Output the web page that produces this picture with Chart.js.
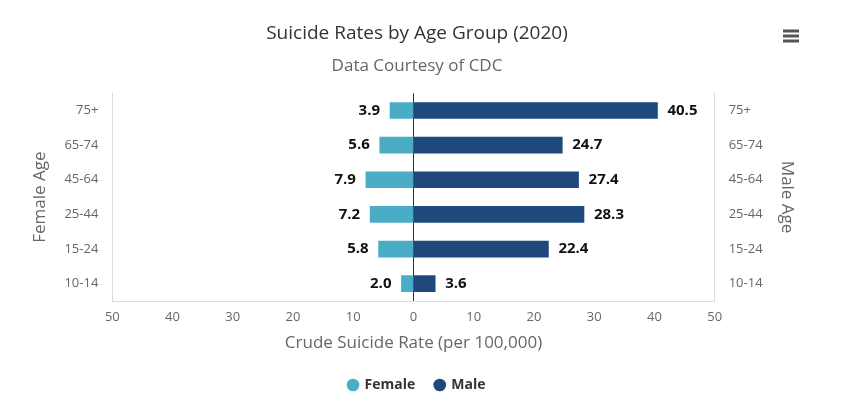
<!DOCTYPE html>
<html>
<head>
<meta charset="utf-8">
<script src="https://cdn.jsdelivr.net/npm/chart.js@4.4.1/dist/chart.umd.min.js"></script>
<style>
  html, body { margin: 0; padding: 0; background: #fff; }
  #wrap { width: 847px; height: 399px; }
</style>
</head>
<body>
<div id="wrap"><canvas id="suicideChart"></canvas></div>
<script>
var ageGroups = ['75+', '65-74', '45-64', '25-44', '15-24', '10-14'];
var femaleRates = [3.9, 5.6, 7.9, 7.2, 5.8, 2.0];
var maleRates = [40.5, 24.7, 27.4, 28.3, 22.4, 3.6];
var xTicks = [-50, -40, -30, -20, -10, 0, 10, 20, 30, 40, 50];

Chart.defaults.font.family = "'Open Sans', sans-serif";

// labels at the end of each bar
var barLabels = {
    id: 'barLabels',
    afterDatasetsDraw: function(chart) {
        var ctx = chart.ctx;
        ctx.save();
        ctx.font = "bold 15px 'Open Sans', sans-serif";
        ctx.fillStyle = '#111';
        ctx.textBaseline = 'middle';
        chart.data.datasets.forEach(function(ds, i) {
            var meta = chart.getDatasetMeta(i);
            if (meta.hidden) return;
            meta.data.forEach(function(bar, j) {
                var v = Math.abs(ds.data[j]).toFixed(1);
                if (ds.data[j] < 0) {
                    ctx.textAlign = 'right';
                    ctx.fillText(v, bar.x - 10, bar.y);
                } else {
                    ctx.textAlign = 'left';
                    ctx.fillText(v, bar.x + 10, bar.y);
                }
            });
        });
        ctx.restore();
    }
};

// the little menu icon top right
var menuIcon = {
    id: 'menuIcon',
    afterDraw: function(chart) {
        var ctx = chart.ctx;
        ctx.save();
        ctx.fillStyle = '#555';
        [31, 36, 41].forEach(function(y) {
            ctx.fillRect(783, y - 1.5, 16, 3);
        });
        ctx.restore();
    }
};

var suicideChartCanvas = document.getElementById('suicideChart');
var suicideChart = new Chart(suicideChartCanvas, {
    type: 'bar',
    data: {
        labels: ageGroups,
        datasets: [
            {
                label: 'Female',
                backgroundColor: '#4bacc6',
                data: femaleRates.map(function(v) { return -v; }),
                barThickness: 16
            },
            {
                label: 'Male',
                backgroundColor: '#1f497d',
                data: maleRates,
                barThickness: 16
            }
        ]
    },
    options: {
        indexAxis: 'y',
        responsive: true,
        maintainAspectRatio: false,
        animation: false,
        layout: { padding: { left: 30, right: 43, top: 0, bottom: -3 } },
        scales: {
            x: {
                stacked: true,
                min: -50,
                max: 50,
                afterBuildTicks: function(axis) {
                    axis.ticks = xTicks.map(function(v) { return { value: v }; });
                },
                ticks: {
                    color: '#666',
                    font: { size: 13 },
                    padding: 8,
                    callback: function(v) { return Math.abs(v); }
                },
                grid: {
                    drawTicks: false,
                    color: function(c) { return c.tick && c.tick.value === 0 ? '#333' : 'rgba(0,0,0,0)'; }
                },
                border: { color: '#dcdcdc', width: 1 },
                title: {
                    display: true,
                    text: 'Crude Suicide Rate (per 100,000)',
                    color: '#666',
                    font: { size: 17 },
                    padding: { top: 0, bottom: 5 }
                }
            },
            y: {
                stacked: true,
                position: 'left',
                ticks: { color: '#666', font: { size: 13 }, padding: 14 },
                grid: { display: false, drawTicks: false },
                border: { color: '#dcdcdc', width: 1 },
                title: {
                    display: true,
                    text: 'Female Age',
                    color: '#666',
                    font: { size: 17 },
                    padding: { top: 0, bottom: 0 }
                }
            },
            y2: {
                type: 'category',
                labels: ageGroups,
                position: 'right',
                offset: true,
                ticks: { color: '#666', font: { size: 13 }, padding: 14 },
                grid: { display: false, drawTicks: false },
                border: { color: '#dcdcdc', width: 1 },
                title: {
                    display: true,
                    text: 'Male Age',
                    color: '#666',
                    font: { size: 17 },
                    padding: { top: 7, bottom: 0 }
                }
            }
        },
        plugins: {
            title: {
                display: true,
                text: 'Suicide Rates by Age Group (2020)',
                color: '#333',
                font: { size: 19, weight: 'normal' },
                padding: { top: 22, bottom: 11 }
            },
            subtitle: {
                display: true,
                text: 'Data Courtesy of CDC',
                color: '#666',
                font: { size: 17 },
                padding: { top: 0, bottom: 17 }
            },
            legend: {
                position: 'bottom',
                labels: {
                    usePointStyle: true,
                    pointStyle: 'circle',
                    boxWidth: 9,
                    boxHeight: 9,
                    padding: 20,
                    color: '#333',
                    font: { size: 14, weight: 'bold' }
                }
            },
            tooltip: { enabled: false }
        }
    },
    plugins: [barLabels, menuIcon]
});
</script>
</body>
</html>
